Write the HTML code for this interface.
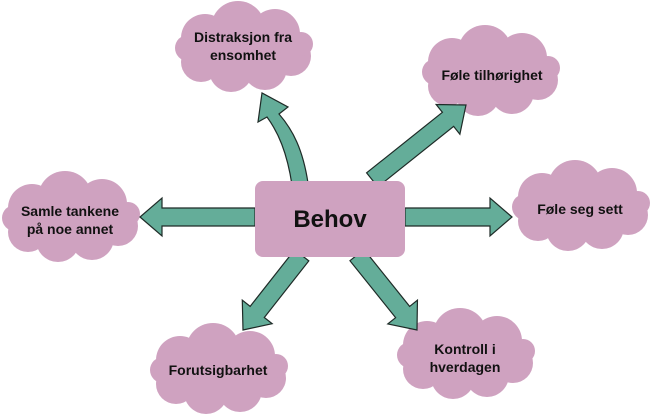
<!DOCTYPE html>
<html><head><meta charset="utf-8"><style>
html,body{margin:0;padding:0;background:#fff;}
svg{display:block;}
text{font-family:"Liberation Sans",Arial,sans-serif;font-weight:bold;fill:#111;text-anchor:middle;}
</style></head><body>
<svg width="655" height="420" viewBox="0 0 655 420" xmlns="http://www.w3.org/2000/svg">
<defs>
<g id="cloud" fill="#cfa2c0">
<ellipse cx="0" cy="0" rx="55" ry="28"/>
<circle cx="-38" cy="-10" r="24"/>
<circle cx="-5" cy="-20" r="27"/>
<circle cx="32" cy="-14" r="25"/>
<circle cx="48" cy="8" r="20"/>
<circle cx="22" cy="20" r="22"/>
<circle cx="-12" cy="22" r="22"/>
<circle cx="-42" cy="14" r="20"/>
<circle cx="-55" cy="0" r="13"/>
<circle cx="58" cy="-4" r="12"/>
</g>
</defs>

<use href="#cloud" transform="translate(243,48)"/>
<use href="#cloud" transform="translate(490,72)"/>
<use href="#cloud" transform="translate(580,207)"/>
<use href="#cloud" transform="translate(70,218)"/>
<use href="#cloud" transform="translate(218,370)"/>
<use href="#cloud" transform="translate(465,355)"/>

<g fill="#64ad99" stroke="#1e2b27" stroke-width="1.2" stroke-linejoin="miter">
<path d="M308,183 C303,150 293,130 279,114 L288,107 L262,93 L258,122 L267,117 C278,132 287,152 292,185 Z"/>
<g transform="translate(466,105) rotate(-38.6)"><polygon points="0,0 -23,-19 -23,-9 -120,-9 -120,9 -23,9 -23,19"/></g>
<g transform="translate(512,217)"><polygon points="0,0 -22,-19 -22,-9 -107,-9 -107,9 -22,9 -22,19"/></g>
<g transform="translate(140,217) rotate(180)"><polygon points="0,0 -22,-19 -22,-9 -115,-9 -115,9 -22,9 -22,19"/></g>
<g transform="translate(243,330) rotate(128.2)"><polygon points="0,0 -23,-19 -23,-9 -95,-9 -95,9 -23,9 -23,19"/></g>
<g transform="translate(417,330) rotate(51.3)"><polygon points="0,0 -23,-19 -23,-9 -96,-9 -96,9 -23,9 -23,19"/></g>
</g>

<rect x="255" y="181" width="150" height="76" rx="8" fill="#cfa2c0"/>
<text x="330" y="227" font-size="24">Behov</text>

<text x="243" y="42" font-size="14">Distraksjon fra</text>
<text x="243" y="60" font-size="14">ensomhet</text>
<text x="492" y="80" font-size="14">Føle tilhørighet</text>
<text x="580" y="214" font-size="14">Føle seg sett</text>
<text x="70" y="216" font-size="14">Samle tankene</text>
<text x="70" y="234" font-size="14">på noe annet</text>
<text x="218" y="375" font-size="14">Forutsigbarhet</text>
<text x="465" y="354" font-size="14">Kontroll i</text>
<text x="465" y="372" font-size="14">hverdagen</text>
</svg>
</body></html>
